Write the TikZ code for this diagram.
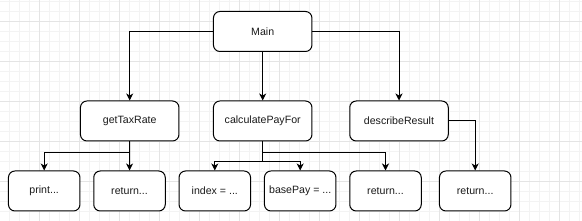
\documentclass[tikz,border=0pt]{standalone}
\usepackage{fontspec}
\setmainfont{Liberation Sans}
\usetikzlibrary{arrows.meta}
\definecolor{gridminor}{HTML}{F3F3F3}
\definecolor{gridmajor}{HTML}{E4E4E4}
\definecolor{txt}{HTML}{1A1A1A}
\begin{document}
\begin{tikzpicture}[x=1pt,y=-1pt,
  box/.style={draw=black, line width=1pt, fill=white, rounded corners=6.5pt,
    minimum height=40pt, inner sep=0pt, text=txt,
    font=\fontsize{10.6}{12}\selectfont},
  wide/.style={box, minimum width=98.5pt},
  narrow/.style={box, minimum width=71.5pt},
  conn/.style={draw=black, line width=1pt, -{Stealth[length=7pt,width=7pt,inset=2pt]}}]
\useasboundingbox (0,0) rectangle (582,221);
\fill[white] (0,0) rectangle (582,221);
\begin{scope}
\clip (0,0) rectangle (582,221);
\foreach \i in {0,...,57} \draw[gridminor, line width=0.8pt] (9.3+10*\i,0) -- ++(0,221);
\foreach \i in {0,...,22} \draw[gridminor, line width=0.8pt] (0,1.3+10*\i) -- ++(582,0);
\foreach \i in {0,...,14} \draw[gridmajor, line width=0.8pt] (39.3+40*\i,0) -- ++(0,221);
\foreach \i in {0,...,5} \draw[gridmajor, line width=0.8pt] (0,21.3+40*\i) -- ++(582,0);
\end{scope}

\node[wide] (main) at (262.7,31.5) {Main};
\node[wide] (gtr) at (129.7,121) {getTaxRate};
\node[wide] (calc) at (262.7,121) {calculatePayFor};
\node[wide] (desc) at (399,121) {describeResult};

\node[narrow] (print) at (44.2,191) {print...};
\node[narrow] (ret1) at (129.5,191) {return...};
\node[narrow] (index) at (214.8,191) {index = ...};
\node[narrow] (base) at (300.2,191) {basePay = ...};
\node[narrow] (ret2) at (385.5,191) {return...};
\node[narrow] (ret3) at (475.2,191) {return...};

\draw[conn] (main.west) -| (gtr.north);
\draw[conn] (main.south) -- (calc.north);
\draw[conn] (main.east) -| (desc.north);

\draw[conn] (gtr.south) -- ++(0,10.7) -| (print.north);
\draw[conn] (gtr.south) -- (ret1.north);

\draw[conn] (calc.south) -- ++(0,20) -| (index.north);
\draw[conn] (calc.south) -- ++(0,20) -| (base.north);
\draw[conn] (calc.south) -- ++(0,10.7) -| (ret2.north);

\draw[conn] (desc.east) -| (ret3.north);
\end{tikzpicture}
\end{document}
